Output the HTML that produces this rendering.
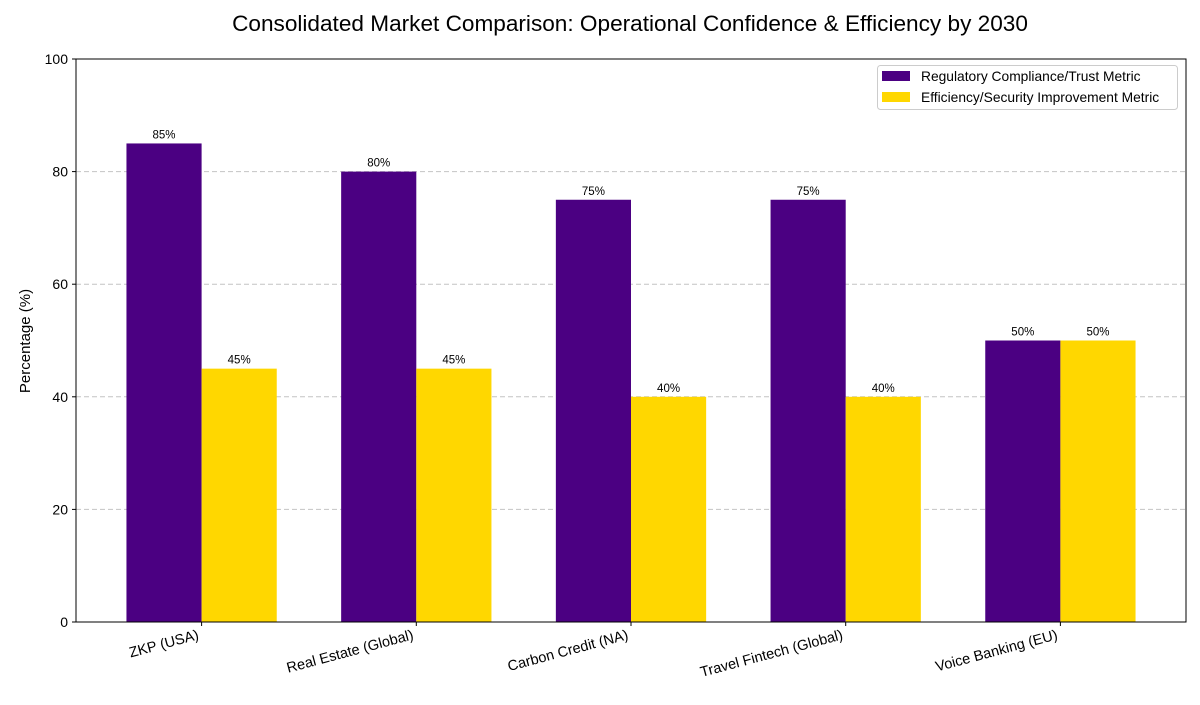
<!DOCTYPE html>
<html><head><meta charset="utf-8"><style>
body{margin:0;background:#fff;}
svg text{font-family:"Liberation Sans",sans-serif;fill:#000;}
</style></head><body>
<svg id="chart" width="1200" height="700" xmlns="http://www.w3.org/2000/svg">
<rect width="1200" height="700" fill="#fff"/>
<text x="630" y="31" font-size="22.6" text-anchor="middle">Consolidated Market Comparison: Operational Confidence &amp; Efficiency by 2030</text>
<g id="grid"></g><g id="bars"></g><g id="axes"></g>
<text transform="translate(30,341) rotate(-90)" font-size="15" text-anchor="middle">Percentage (%)</text>
<g>
<rect x="877.5" y="65.5" width="300" height="44" fill="#fff" stroke="#ccc" rx="3"/>
<rect x="882" y="71" width="28" height="10" fill="#4b0082"/>
<text x="921" y="81" font-size="13.8">Regulatory Compliance/Trust Metric</text>
<rect x="882" y="92" width="28" height="10" fill="#ffd700"/>
<text x="921" y="102" font-size="13.8">Efficiency/Security Improvement Metric</text>
</g>
</svg>
<script>
const categories=["ZKP (USA)","Real Estate (Global)","Carbon Credit (NA)","Travel Fintech (Global)","Voice Banking (EU)"];
const trustValues=[85,80,75,75,50];
const efficiencyValues=[45,45,40,40,50];
const yTicks=[0,20,40,60,80,100];
const NS="http://www.w3.org/2000/svg";
const L=76,R=1186,T=59,B=622;
const xMin=-0.585,xMax=4.585;
const sx=v=>L+(v-xMin)/(xMax-xMin)*(R-L);
const sy=v=>B-(v/100)*(B-T);
const bw=0.35;
function mk(tag,attrs,parent){const e=document.createElementNS(NS,tag);for(const k in attrs)e.setAttribute(k,attrs[k]);parent.appendChild(e);return e;}
const grid=document.getElementById('grid'),bars=document.getElementById('bars'),axes=document.getElementById('axes');
yTicks.forEach(t=>{
  if(t>0&&t<100){const g=mk('line',{x1:L,x2:R,y1:sy(t),y2:sy(t),stroke:'#c4c4c4','stroke-dasharray':'5,3'},grid);
  
  }
  mk('line',{x1:L-4,x2:L,y1:sy(t),y2:sy(t),stroke:'#000'},axes);
  const tx=mk('text',{x:L-8,y:sy(t)+5,'font-size':'14','text-anchor':'end'},axes);tx.textContent=t;
  
  
});
categories.forEach((c,i)=>{
  [[trustValues[i],-bw,'#4b0082','trust'],[efficiencyValues[i],0,'#ffd700','efficiency']].forEach(([v,off,col,n])=>{
    const x0=sx(i+off),x1=sx(i+off+bw);
    const r=mk('rect',{x:x0,y:sy(v),width:x1-x0,height:B-sy(v),fill:col},bars);
    
    
    const t=mk('text',{x:(x0+x1)/2,y:sy(v)-5,'font-size':'11.5','text-anchor':'middle'},bars);t.textContent=v+'%';
    
    
  });
  const cx=sx(i);
  mk('line',{x1:cx,x2:cx,y1:B,y2:B+4,stroke:'#000'},axes);
  const t=mk('text',{x:cx-2,y:B+17,'font-size':'14.5','text-anchor':'end',transform:`rotate(-15 ${cx-2} ${B+17})`},axes);t.textContent=c;
  
  
});
const f=mk('rect',{x:L,y:T,width:R-L,height:B-T,fill:'none',stroke:'#000','stroke-width':1},axes);


</script>
</body></html>
